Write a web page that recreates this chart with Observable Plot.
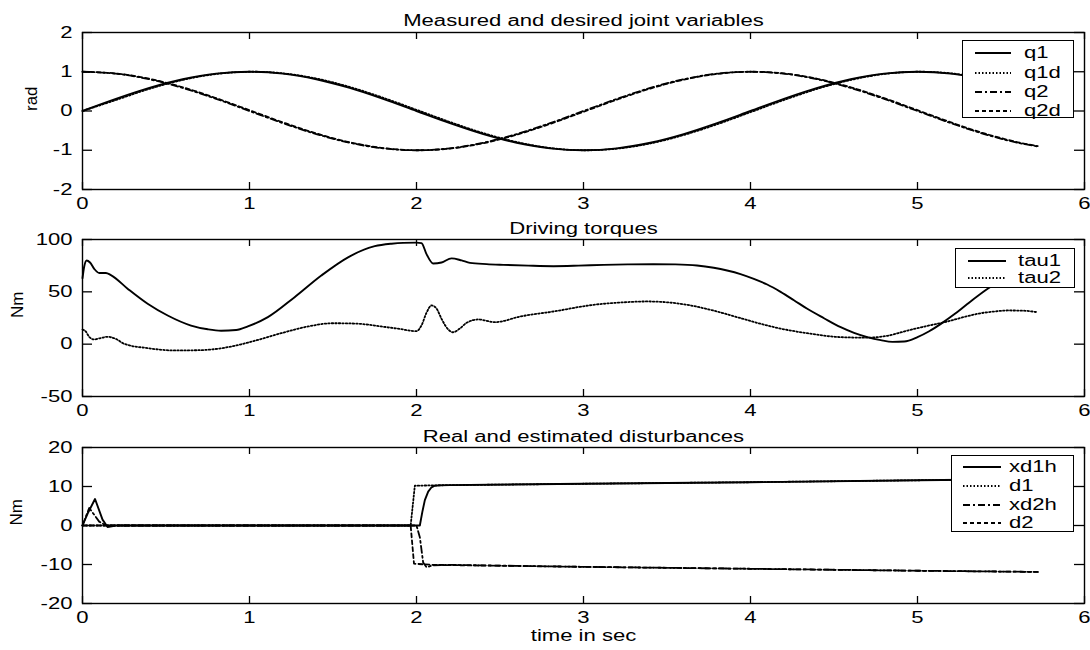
<!DOCTYPE html>
<html><head><meta charset="utf-8">
<script src="https://cdn.jsdelivr.net/npm/d3@7"></script>
<script src="https://cdn.jsdelivr.net/npm/@observablehq/plot@0.6"></script>
<style>
body{margin:0;background:#fff;}
#wrap{position:relative;width:1090px;height:650px;overflow:hidden;font-family:"Liberation Sans",Arial,sans-serif;background:#fff;}
.panel{position:absolute;left:0;width:1090px;}
.legend{position:absolute;background:#fff;border:1.3px solid #000;box-sizing:border-box;}
.legend .row{position:absolute;left:0;height:18px;line-height:18px;font-size:16px;white-space:nowrap;}
.legend .lab{position:absolute;top:0;display:inline-block;transform:scaleX(1.38);transform-origin:0 50%;}
.legend svg{position:absolute;top:0;}
</style></head><body><div id="wrap"></div>
<script>
// ---------- data ----------
const xTicks = [0, 1, 2, 3, 4, 5, 6];
const jointTicks = [-2, -1, 0, 1, 2];
const torqueTicks = [-50, 0, 50, 100];
const distTicks = [-20, -10, 0, 10, 20];

// Panel 1: joint variables (rad)
const tJoint = [0,0.2,0.4,0.6,0.8,1.0,1.2,1.4,1.6,1.8,2.0,2.2,2.4,2.6,2.8,3.0,3.2,3.4,3.6,3.8,4.0,4.2,4.4,4.6,4.8,5.0,5.2,5.4,5.6,5.72];
const q1  = [0,0.309,0.588,0.809,0.951,1.0,0.951,0.809,0.588,0.309,0,-0.309,-0.588,-0.809,-0.951,-1.0,-0.951,-0.809,-0.588,-0.309,0,0.309,0.588,0.809,0.951,1.0,0.951,0.809,0.588,0.426];
const q1d = [0,0.280,0.564,0.791,0.942,1.0,0.960,0.827,0.612,0.338,0.03,-0.280,-0.564,-0.791,-0.942,-1.0,-0.960,-0.827,-0.612,-0.338,-0.03,0.280,0.564,0.791,0.942,1.0,0.960,0.827,0.612,0.453];
const q2  = [1.0,0.951,0.809,0.588,0.309,0,-0.309,-0.588,-0.809,-0.951,-1.0,-0.951,-0.809,-0.588,-0.309,0,0.309,0.588,0.809,0.951,1.0,0.951,0.809,0.588,0.309,0,-0.309,-0.588,-0.809,-0.904];
const q2d = [1.0,0.957,0.821,0.604,0.328,0.02,-0.290,-0.572,-0.797,-0.945,-1.0,-0.957,-0.821,-0.604,-0.328,-0.02,0.290,0.572,0.797,0.945,1.0,0.957,0.821,0.604,0.328,0.02,-0.290,-0.572,-0.797,-0.895];

// Panel 2: driving torques (Nm)
const tTau1 = [0,0.01,0.025,0.045,0.07,0.1,0.14,0.17,0.27,0.39,0.51,0.65,0.75,0.83,0.92,0.99,1.11,1.27,1.43,1.59,1.75,1.85,1.92,2.0,2.03,2.06,2.1,2.15,2.21,2.27,2.32,2.42,2.52,2.67,2.82,2.97,3.12,3.27,3.42,3.55,3.68,3.78,3.86,3.94,4.02,4.1,4.18,4.26,4.34,4.44,4.54,4.62,4.7,4.78,4.85,4.92,5.0,5.07,5.14,5.22,5.3,5.42,5.55,5.72];
const tau1  = [63,74,80,78,72,68,68,66,53,38.6,27.4,17.8,14.2,12.8,13.5,17,25.8,44.9,65.6,83,93.6,96,96.8,97,96.5,86,77,78,82,80,77.7,76.5,75.8,75,74.5,75,75.8,76.2,76.4,76.2,75.2,73,70.4,67,62.4,57,50,42,33.8,24.8,16.2,10.8,6.7,3.8,2.2,2.5,6.7,12.3,19.4,28.5,38.6,52.9,66,80];
const tTau2 = [0,0.02,0.04,0.07,0.1,0.15,0.2,0.25,0.39,0.55,0.71,0.87,1.03,1.19,1.35,1.5,1.63,1.79,1.9,2.0,2.03,2.06,2.09,2.12,2.15,2.19,2.22,2.26,2.3,2.37,2.47,2.62,2.82,3.06,3.22,3.38,3.5,3.62,3.78,3.92,4.06,4.2,4.34,4.54,4.7,4.82,4.94,5.06,5.18,5.28,5.38,5.46,5.54,5.63,5.72];
const tau2  = [14,12,7,4.5,5.5,7,5,0.3,-3.8,-6,-5.7,-2.9,3.2,10.5,16.9,20,19.7,16.9,14.5,12.4,18,30,37,34,24.2,14,11.4,15,20.4,23.6,21,26.4,31.2,37.6,39.8,40.8,40,37.6,32,25.8,19.5,14.2,10.5,6.7,6.2,8,13,17.5,21.7,26,29.6,31.2,32.2,32,30.5];

// Panel 3: real and estimated disturbances (Nm)
const tXd1h = [0,0.03,0.075,0.12,0.15,0.2,1.99,2.02,2.035,2.05,2.07,2.09,2.11,2.14,2.2,3,4,5,5.72];
const xd1h  = [0,3,6.8,1.5,-0.4,0,0,0,3.5,6.5,8.7,9.8,10.2,10.3,10.35,10.7,11.1,11.6,11.9];
const tD1 = [0,1.965,1.99,2.1,3,4,5,5.72];
const d1  = [0,0,10.2,10.3,10.7,11.1,11.6,11.9];
const tXd2h = [0,0.04,0.1,0.14,2.0,2.02,2.04,2.06,2.1,2.2,3,4,5,5.72];
const xd2h  = [0,4.5,1,0,0,-3,-9.5,-10.7,-10.2,-10.1,-10.6,-11.1,-11.6,-11.9];
const tD2 = [0,1.965,1.985,2.1,3,4,5,5.72];
const d2  = [0,0,-9.8,-10.1,-10.6,-11.1,-11.6,-11.9];

// ---------- styles ----------
const DASH = {solid: null, dotted: "1.5,2", dashdot: "7,3,2,3", dashed: "4,3"};
const STRETCH = 1.38;
const FONT = '"Liberation Sans", Arial, sans-serif';

function stretchText(svg, k) {
  svg.querySelectorAll("text").forEach(t => {
    const tr = t.getAttribute("transform") || "";
    if (tr.includes("rotate")) return;
    if (tr) t.setAttribute("transform", tr + ` scale(${k},1)`);
    else {
      const x = parseFloat(t.getAttribute("x")) || 0, y = parseFloat(t.getAttribute("y")) || 0;
      t.setAttribute("transform", `translate(${x},${y}) scale(${k},1) translate(${-x},${-y})`);
    }
  });
}

function makePanel(cfg) {
  const H = cfg.height - cfg.marginTop - cfg.marginBottom;   // frame height in px
  const W = 1090 - 82 - 6;                                     // frame width in px
  const marks = [];
  cfg.series.forEach(s => {
    const rows = d3.zip(s.t, s.v);
    marks.push(Plot.line(rows, {x: d => d[0], y: d => d[1], stroke: "black",
      strokeWidth: s.style === "solid" ? 1.9 : 1.8, strokeDasharray: DASH[s.style],
      curve: cfg.curve}));
  });
  marks.push(
    Plot.frame({stroke: "black", strokeWidth: 1.4}),
    // inward ticks (MATLAB style) on all four sides
    Plot.tickX(xTicks, {x: d => d, insetTop: H - 7, stroke: "black", strokeWidth: 1.3}),
    Plot.tickX(xTicks, {x: d => d, insetBottom: H - 7, stroke: "black", strokeWidth: 1.3}),
    Plot.tickY(cfg.yTicks, {y: d => d, insetRight: W - 10, stroke: "black", strokeWidth: 1.3}),
    Plot.tickY(cfg.yTicks, {y: d => d, insetLeft: W - 10, stroke: "black", strokeWidth: 1.3}),
    Plot.axisX({anchor: "bottom", ticks: xTicks, tickSize: 0, tickPadding: 8, tickFormat: d => String(d), label: null}),
    Plot.axisY({anchor: "left", ticks: cfg.yTicks, tickSize: 0, tickPadding: 10, tickFormat: d => String(d), label: null}),
    Plot.text([cfg.title], {text: d => d, frameAnchor: "top", dy: cfg.titleDy, fontSize: 16}),
    Plot.text([cfg.ylabel], {text: d => d, frameAnchor: "left", dx: cfg.ylabelDx, rotate: -90, fontSize: 17})
  );
  if (cfg.xlabel) marks.push(Plot.text([cfg.xlabel], {text: d => d, frameAnchor: "bottom", dy: 37, fontSize: 16}));
  const svg = Plot.plot({
    width: 1090, height: cfg.height,
    marginLeft: 82, marginRight: 6, marginTop: cfg.marginTop, marginBottom: cfg.marginBottom,
    style: {fontFamily: FONT, fontSize: "16px", color: "black", background: "white", overflow: "visible"},
    x: {domain: [0, 6]},
    y: {domain: cfg.yDomain},
    marks
  });
  const div = document.createElement("div");
  div.className = "panel";
  div.style.top = cfg.top + "px";
  div.appendChild(svg);
  document.getElementById("wrap").appendChild(div);
  stretchText(svg, STRETCH);
}

function makeLegend(cfg) {
  const box = document.createElement("div");
  box.className = "legend";
  Object.assign(box.style, {left: cfg.left + "px", top: cfg.top + "px", width: cfg.width + "px", height: cfg.height + "px"});
  cfg.items.forEach((it, i) => {
    const row = document.createElement("div");
    row.className = "row";
    row.style.top = (cfg.rows[i] - 9) + "px";
    row.style.width = "100%";
    const sw = cfg.sample[1] - cfg.sample[0];
    row.innerHTML = `<svg width="${sw}" height="18" style="left:${cfg.sample[0]}px"><line x1="0" x2="${sw}" y1="9" y2="9" stroke="black" stroke-width="1.8" ${DASH[it.style] ? `stroke-dasharray="${DASH[it.style]}"` : ""}/></svg><span class="lab" style="left:${cfg.textX}px">${it.name}</span>`;
    box.appendChild(row);
  });
  document.getElementById("wrap").appendChild(box);
}

makePanel({
  top: 0, height: 215, marginTop: 32, marginBottom: 26,
  yDomain: [-2, 2], yTicks: jointTicks, curve: "catmull-rom",
  title: "Measured and desired joint variables", titleDy: -18,
  ylabel: "rad", ylabelDx: -51,
  series: [
    {t: tJoint, v: q1, style: "solid"},
    {t: tJoint, v: q1d, style: "dotted"},
    {t: tJoint, v: q2, style: "dashdot"},
    {t: tJoint, v: q2d, style: "dashed"}
  ]
});
makePanel({
  top: 215, height: 210, marginTop: 24, marginBottom: 29,
  yDomain: [-50, 100], yTicks: torqueTicks, curve: "monotone-x",
  title: "Driving torques", titleDy: -17,
  ylabel: "Nm", ylabelDx: -65,
  series: [
    {t: tTau1, v: tau1, style: "solid"},
    {t: tTau2, v: tau2, style: "dotted"}
  ]
});
makePanel({
  top: 425, height: 225, marginTop: 22, marginBottom: 47,
  yDomain: [-20, 20], yTicks: distTicks, curve: "linear",
  title: "Real and estimated disturbances", titleDy: -17,
  ylabel: "Nm", ylabelDx: -66, xlabel: "time in sec",
  series: [
    {t: tXd1h, v: xd1h, style: "solid"},
    {t: tD1, v: d1, style: "dotted"},
    {t: tXd2h, v: xd2h, style: "dashdot"},
    {t: tD2, v: d2, style: "dashed"}
  ]
});

makeLegend({left: 962, top: 40, width: 112, height: 78, rows: [12, 32, 51, 70], sample: [12, 48], textX: 61,
  items: [{name: "q1", style: "solid"}, {name: "q1d", style: "dotted"}, {name: "q2", style: "dashdot"}, {name: "q2d", style: "dashed"}]});
makeLegend({left: 955, top: 248, width: 120, height: 40, rows: [12, 29], sample: [12, 50], textX: 62,
  items: [{name: "tau1", style: "solid"}, {name: "tau2", style: "dotted"}]});
makeLegend({left: 951, top: 455, width: 123, height: 77, rows: [11, 30, 49, 67], sample: [11, 49], textX: 57,
  items: [{name: "xd1h", style: "solid"}, {name: "d1", style: "dotted"}, {name: "xd2h", style: "dashdot"}, {name: "d2", style: "dashed"}]});
</script></body></html>
